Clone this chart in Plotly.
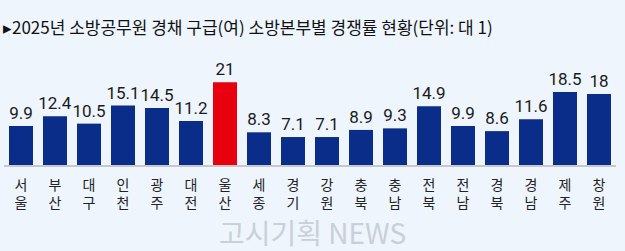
import plotly.graph_objects as go

regions = ["서울", "부산", "대구", "인천", "광주", "대전", "울산", "세종", "경기",
           "강원", "충북", "충남", "전북", "전남", "경북", "경남", "제주", "창원"]
rates = [9.9, 12.4, 10.5, 15.1, 14.5, 11.2, 21, 8.3, 7.1,
         7.1, 8.9, 9.3, 14.9, 9.9, 8.6, 11.6, 18.5, 18]
highlight = "울산"
title_text = "▸2025년 소방공무원 경채 구급(여) 소방본부별 경쟁률 현황(단위: 대 1)"
watermark = "고시기획 NEWS"

NAVY = "#0b2d8a"
RED = "#e8000f"
BG = "#eef5fc"

colors = [RED if r == highlight else NAVY for r in regions]
labels = [f"{v:g}" for v in rates]
ticktext = ["<br>".join(list(r)) for r in regions]

fig = go.Figure(go.Bar(
    x=regions, y=rates, marker=dict(color=colors, line=dict(width=0)),
    text=labels, textposition="outside", cliponaxis=False, constraintext="none",
    textfont=dict(family="Roboto, sans-serif", size=17, color="#1a1a1a"),
))

fig.update_layout(
    width=625, height=251,
    margin=dict(l=4, r=9, t=66, b=86),
    paper_bgcolor=BG, plot_bgcolor=BG,
    bargap=0.294, showlegend=False,
    xaxis=dict(tickmode="array", tickvals=regions, ticktext=ticktext,
               showline=True, linecolor="#c8c8c8", linewidth=1.5,
               showgrid=False, ticks="", ticklabelstandoff=6,
               tickfont=dict(family="Noto Sans CJK KR", size=14, color="#222222")),
    yaxis=dict(range=[0, 25.13], visible=False, showgrid=False, zeroline=False),
    annotations=[
        dict(text=title_text, xref="paper", yref="paper", x=-0.005, y=1.0,
             xanchor="left", yanchor="bottom", yshift=25, showarrow=False,
             font=dict(family="Noto Sans CJK KR", size=17, color="#111111")),
        dict(text=watermark, xref="paper", yref="paper", x=0.504, y=-0.68,
             xanchor="center", yanchor="middle", showarrow=False,
             font=dict(family="Noto Sans CJK KR", size=28, color="#c9d0d7")),
    ],
)

fig.write_html("out.html")
